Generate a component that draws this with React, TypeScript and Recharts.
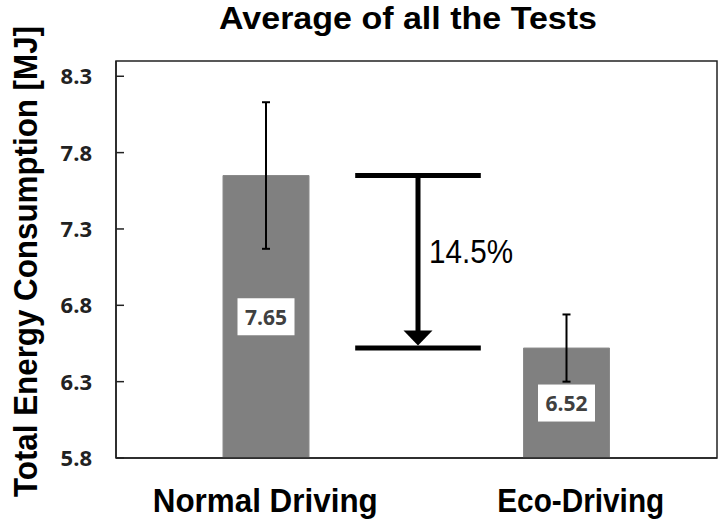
import { BarChart, Bar, XAxis, YAxis, ErrorBar, LabelList, ReferenceArea, Customized } from "recharts";

const categories = ["Normal Driving", "Eco-Driving"];
const energy = [7.65, 6.52];
const spread = [0.48, 0.22];
const yTicks = [5.8, 6.3, 6.8, 7.3, 7.8, 8.3];
const reduction = "14.5%";

const data = categories.map((name, i) => ({ name, value: energy[i], err: spread[i] }));

const labelWidth: Record<string, number> = { "Normal Driving": 225, "Eco-Driving": 167 };
const labelShift: Record<string, number> = { "Normal Driving": -1, "Eco-Driving": 14 };

const sans = "'Liberation Sans', Arial, sans-serif";
const ink = "#222";

const XTick = (props: any) => {
  const { x, y, payload } = props;
  const name = payload.value as string;
  return (
    <text
      x={x + (labelShift[name] || 0)}
      y={y + 54}
      textAnchor="middle"
      fontFamily={sans}
      fontWeight="bold"
      fontSize={34}
      fill="#000"
      textLength={labelWidth[name]}
      lengthAdjust="spacingAndGlyphs"
    >
      {name}
    </text>
  );
};

const YTick = (props: any) => {
  const { x, y, payload } = props;
  return (
    <g>
      <line x1={x} x2={x + 8} y1={y} y2={y} stroke={ink} strokeWidth={1.5} />
      <text
        x={x - 24}
        y={y + 8}
        textAnchor="end"
        fontFamily="'Open Sans', sans-serif"
        fontWeight="bold"
        fontSize={22}
        fill={ink}
      >
        {payload.value.toFixed(1)}
      </text>
    </g>
  );
};

const ValueBox = (props: any) => {
  const { x, y, width, height, value } = props;
  const cx = x + width / 2;
  const cy = y + height / 2;
  return (
    <g>
      <rect x={cx - 28.5} y={cy - 18.5} width={57} height={37} fill="#fff" />
      <text
        x={cx}
        y={cy + 8}
        textAnchor="middle"
        fontFamily="'Open Sans', sans-serif"
        fontWeight="bold"
        fontSize={21}
        fill="#404040"
      >
        {value.toFixed(2)}
      </text>
    </g>
  );
};

// plot frame: the area spans the full y domain and the whole category axis
const Frame = (props: any) => {
  const { x, y, width, height } = props;
  return <rect x={x} y={y} width={width} height={height} fill="none" stroke={ink} strokeWidth={1.5} />;
};

// difference marker between the two bar heights (x as fraction of plot width)
const Gap = (props: any) => {
  const { x, y, width, height } = props;
  const left = x + width * 0.398;
  const right = x + width * 0.607;
  const mid = x + width * 0.5025;
  const top = y;
  const bottom = y + height;
  const tip = bottom - 2.5;
  return (
    <g>
      <line x1={left} x2={right} y1={top} y2={top} stroke="#000" strokeWidth={5} />
      <line x1={left} x2={right} y1={bottom} y2={bottom} stroke="#000" strokeWidth={5} />
      <line x1={mid} x2={mid} y1={top} y2={tip - 14} stroke="#000" strokeWidth={5} />
      <polygon points={`${mid - 14.5},${tip - 15} ${mid + 14.5},${tip - 15} ${mid},${tip}`} fill="#000" />
      <text
        x={mid + 11}
        y={(top + bottom) / 2 + 1}
        fontFamily="'Liberation Sans Narrow', 'Liberation Sans', Arial, sans-serif"
        fontSize={34}
        fill="#000"
        textLength={84}
        lengthAdjust="spacingAndGlyphs"
      >
        {reduction}
      </text>
    </g>
  );
};

const Titles = () => (
  <g>
    <text
      x={408}
      y={29}
      textAnchor="middle"
      fontFamily={sans}
      fontWeight="bold"
      fontSize={32}
      fill="#000"
      textLength={378}
      lengthAdjust="spacingAndGlyphs"
    >
      Average of all the Tests
    </text>
    <text
      transform="translate(37, 261.5) rotate(-90)"
      textAnchor="middle"
      fontFamily={sans}
      fontWeight="bold"
      fontSize={33}
      fill="#000"
      textLength={471}
      lengthAdjust="spacingAndGlyphs"
    >
      Total Energy Consumption [MJ]
    </text>
  </g>
);

export default function App() {
  return (
    <div style={{ position: "absolute", left: 0, top: 0, width: 727, height: 525, background: "#fff" }}>
      <BarChart width={727} height={525} data={data} margin={{ top: 61, right: 10, left: 0, bottom: 0 }}>
        <XAxis
          dataKey="name"
          height={67}
          tickLine={false}
          tickSize={0}
          tickMargin={0}
          axisLine={{ stroke: ink, strokeWidth: 1.5 }}
          tick={<XTick />}
          interval={0}
        />
        <YAxis
          width={116}
          domain={[5.8, 8.4]}
          ticks={yTicks}
          tickLine={false}
          tickSize={0}
          tickMargin={0}
          axisLine={{ stroke: ink, strokeWidth: 1.5 }}
          tick={<YTick />}
          allowDataOverflow
        />
        <ReferenceArea y1={5.8} y2={8.4} shape={<Frame />} ifOverflow="visible" />
        <Bar dataKey="value" barSize={86} fill="#808080" stroke="#8a8a8a" isAnimationActive={false}>
          <ErrorBar dataKey="err" width={4} stroke="#000" strokeWidth={2} />
          <LabelList dataKey="value" content={<ValueBox />} />
        </Bar>
        <ReferenceArea y1={energy[1]} y2={energy[0]} shape={<Gap />} ifOverflow="visible" />
        <Customized component={<Titles />} />
      </BarChart>
    </div>
  );
}
